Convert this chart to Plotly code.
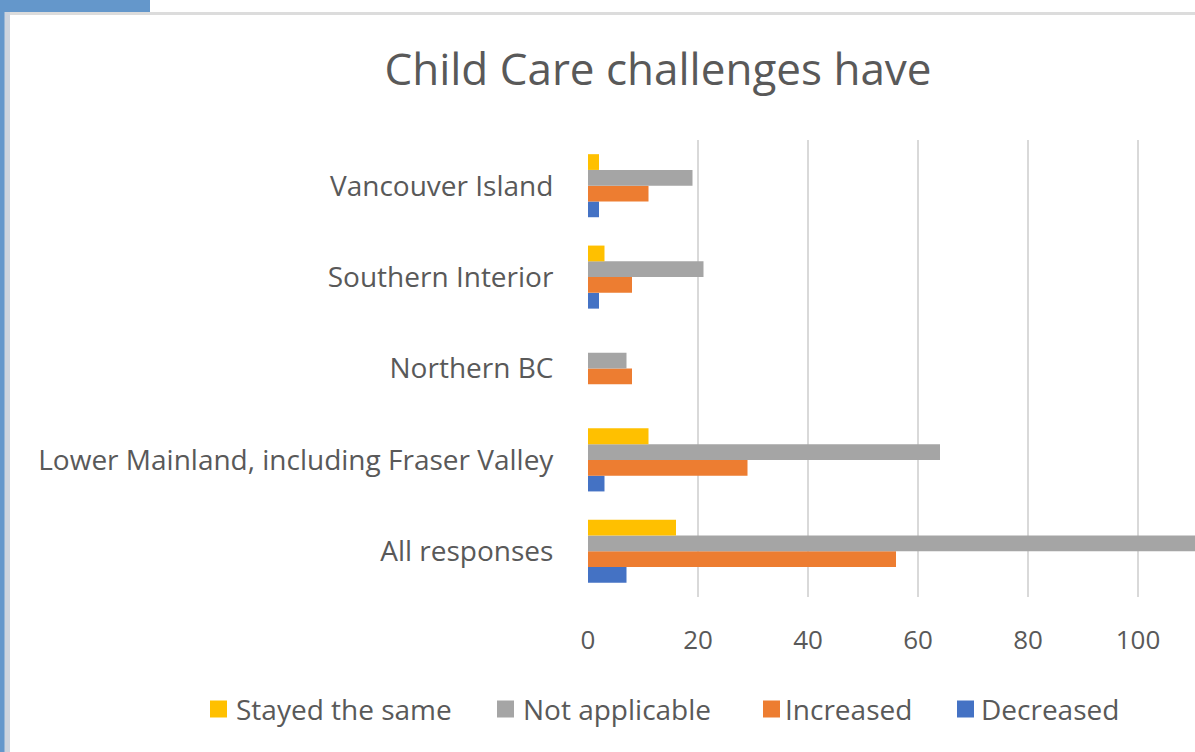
import plotly.graph_objects as go

# Survey regions, listed bottom-to-top as Plotly stacks categories upward
regions = [
    "All responses",
    "Lower Mainland, including Fraser Valley",
    "Northern BC",
    "Southern Interior",
    "Vancouver Island",
]

stayed_same = [16, 11, 0, 3, 2]
not_applicable = [111, 64, 7, 21, 19]
increased = [56, 29, 8, 8, 11]
decreased = [7, 3, 0, 2, 2]

series_names = ["Stayed the same", "Not applicable", "Increased", "Decreased"]
series_colors = ["#FFC000", "#A5A5A5", "#ED7D31", "#4472C4"]
series_values = [stayed_same, not_applicable, increased, decreased]

W, H = 1195, 752
L, R, T, B = 588, 0, 140, 155
PW, PH = W - L - R, H - T - B

def px_x(px):
    return (px - L) / PW

def px_y(py):
    return (H - B - py) / PH

TEXT = "#595959"
FONT = "Open Sans"

fig = go.Figure()

# Traces added in reverse so each group reads Stayed / N/A / Increased / Decreased top-down
for name, vals, color in reversed(list(zip(series_names, series_values, series_colors))):
    fig.add_trace(go.Bar(
        y=regions, x=vals, name=name, orientation="h",
        marker=dict(color=color, line=dict(width=0)),
        showlegend=False,
    ))

# Single-row legend along the bottom: colour key squares plus labels
legend_key_x = [210, 497, 763, 957]
legend_text_x = [234, 521, 783, 979]
legend_y = 709
shapes = []
annotations = []
for name, color, kx, tx in zip(series_names, series_colors, legend_key_x, legend_text_x):
    shapes.append(dict(
        type="rect", xref="paper", yref="paper",
        x0=px_x(kx), x1=px_x(kx + 17),
        y0=px_y(legend_y + 8.5), y1=px_y(legend_y - 8.5),
        fillcolor=color, line=dict(width=0),
    ))
    annotations.append(dict(
        text=name, xref="paper", yref="paper",
        x=px_x(tx), y=px_y(legend_y),
        xanchor="left", yanchor="middle", showarrow=False,
        font=dict(size=28, color=TEXT, family=FONT),
    ))

# Window frame accents
frame = [
    (4, W, 12, 15, "#DCDCDC"),
    (4, 10, 12, H, "#CDD4DE"),
    (0, 4.5, 0, H, "#6497CB"),
    (0, 150, 0, 12, "#6497CB"),
]
for x0, x1, y0, y1, color in frame:
    shapes.append(dict(
        type="rect", xref="paper", yref="paper",
        x0=px_x(x0), x1=px_x(x1), y0=px_y(y1), y1=px_y(y0),
        fillcolor=color, line=dict(width=0), layer="above",
    ))

fig.update_layout(
    width=W, height=H,
    margin=dict(l=L, r=R, t=T, b=B),
    paper_bgcolor="white", plot_bgcolor="white",
    barmode="group", bargap=0.31, bargroupgap=0,
    font=dict(family=FONT, color=TEXT),
    showlegend=False,
    title=dict(
        text="Child Care challenges have",
        font=dict(size=44, color=TEXT, family=FONT),
        xref="container", x=658 / W, xanchor="center",
        yref="container", y=1 - 70 / H, yanchor="middle",
    ),
    xaxis=dict(
        range=[0, (W - L) / 5.5], tickvals=[0, 20, 40, 60, 80, 100],
        showgrid=True, gridcolor="#D9D9D9", gridwidth=2,
        zeroline=False, showline=False,
        tickfont=dict(size=26, color=TEXT),
        ticks="outside", ticklen=20, tickcolor="rgba(0,0,0,0)",
        fixedrange=True,
    ),
    yaxis=dict(
        categoryorder="array", categoryarray=regions,
        showgrid=False, zeroline=False, showline=False,
        tickfont=dict(size=28, color=TEXT),
        ticks="outside", ticklen=28, tickcolor="rgba(0,0,0,0)",
        fixedrange=True,
    ),
    shapes=shapes,
    annotations=annotations,
)

fig.write_html("out.html")
